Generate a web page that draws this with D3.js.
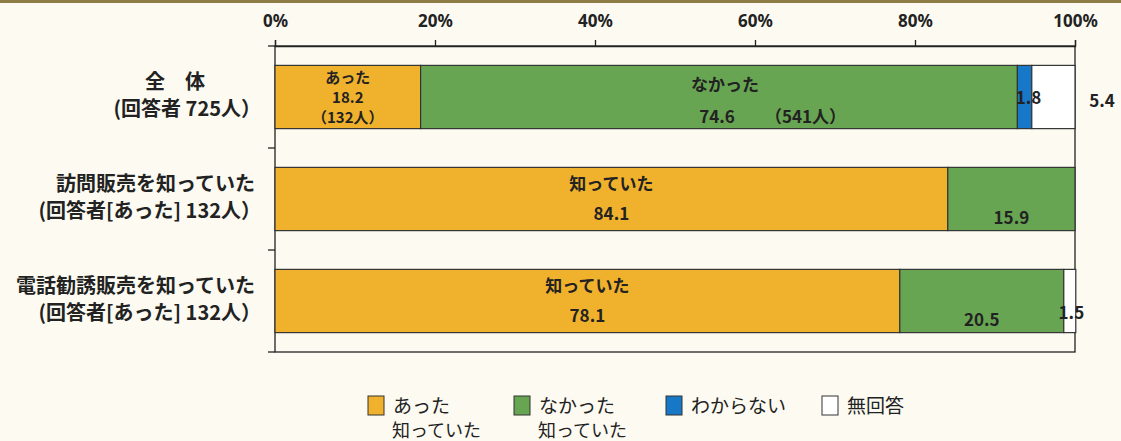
<!DOCTYPE html>
<html><head><meta charset="utf-8">
<script src="https://cdn.jsdelivr.net/npm/d3@7"></script>
<style>
html,body{margin:0;padding:0;background:#fcfaf1;}
svg{display:block;}
text{font-family:"Noto Sans CJK JP","Noto Sans",sans-serif;}
</style></head>
<body>
<svg id="chart" width="1121" height="441"></svg>
<script>
// ---- data ----
const categoryLine1 = ["全　体", "訪問販売を知っていた", "電話勧誘販売を知っていた"];
const categoryLine2 = ["(回答者 725人）", "(回答者[あった] 132人）", "(回答者[あった] 132人）"];
const seriesKeys = ["yes", "no", "unknown", "noAnswer"];
const legendLine1 = ["あった", "なかった", "わからない", "無回答"];
const legendLine2 = ["知っていた", "知っていた", "", ""];
const yesValues = [18.2, 84.1, 78.1];
const noValues = [74.6, 15.9, 20.5];
const unknownValues = [1.8, 0, 0];
const noAnswerValues = [5.4, 0, 1.5];
const yesTitles = ["あった", "知っていた", "知っていた"];
const yesCounts = ["（132人）", "", ""];
const noTitles = ["なかった", "", ""];
const noCounts = ["（541人）", "", ""];
const xTicks = [0, 20, 40, 60, 80, 100];

const colors = {yes: "#f0b22c", no: "#68a553", unknown: "#1878c8", noAnswer: "#ffffff"};

const svg = d3.select("#chart");
// top decorative strip
svg.append("rect").attr("x", 0).attr("y", 0).attr("width", 1121).attr("height", 3).attr("fill", "#8b7d45");

const x = d3.scaleLinear().domain([0, 100]).range([275, 1075]);
const y = d3.scaleBand().domain(d3.range(categoryLine1.length)).range([46, 352])
  .paddingInner(0.38).paddingOuter(0.19);

const rows = categoryLine1.map((c, i) => ({
  i, yes: yesValues[i], no: noValues[i], unknown: unknownValues[i], noAnswer: noAnswerValues[i]
}));
const stacked = d3.stack().keys(seriesKeys)(rows);

// plot frame
svg.append("rect").attr("x", x(0)).attr("y", y.range()[0])
  .attr("width", x(100) - x(0)).attr("height", y.range()[1] - y.range()[0])
  .attr("fill", "none").attr("stroke", "#222").attr("stroke-width", 1.3);

// top axis
const xAxis = d3.axisTop(x).tickValues(xTicks).tickFormat(d => d + "%").tickSize(6).tickPadding(13);
const gx = svg.append("g").attr("transform", `translate(0,${y.range()[0]})`).call(xAxis);
gx.select(".domain").attr("stroke", "#222").attr("stroke-width", 1.3);
gx.selectAll(".tick line").attr("stroke", "#222").attr("stroke-width", 1.3);
gx.selectAll(".tick text").attr("font-size", 17).attr("font-weight", "bold").attr("fill", "#222")
  .style("font-family", "'Noto Sans','Noto Sans CJK JP',sans-serif");

// left boundary ticks
const bounds = [y.range()[0]].concat(d3.range(1, categoryLine1.length).map(i => y(i) - y.step() * y.paddingInner() / 2), [y.range()[1]]);
svg.selectAll(".ltick").data(bounds).join("line")
  .attr("x1", x(0) - 7).attr("x2", x(0)).attr("y1", d => d).attr("y2", d => d)
  .attr("stroke", "#222").attr("stroke-width", 1.3);

// bars
stacked.forEach(layer => {
  svg.append("g").selectAll("rect").data(layer.filter(d => d[1] - d[0] > 0)).join("rect")
    .attr("x", d => x(d[0])).attr("y", d => y(d.data.i))
    .attr("width", d => x(d[1]) - x(d[0])).attr("height", y.bandwidth())
    .attr("fill", colors[layer.key]).attr("stroke", "#333").attr("stroke-width", 1.2);
});

// category labels
const lab = svg.append("g").attr("font-weight", "bold").attr("fill", "#222").attr("font-size", 20);
categoryLine1.forEach((c, i) => {
  const cy = y(i) + y.bandwidth() / 2;
  if (i === 0) {
    lab.append("text").attr("x", 175).attr("y", cy - 8).attr("text-anchor", "middle").text(c);
  } else {
    lab.append("text").attr("x", 255).attr("y", cy - 8).attr("text-anchor", "end").text(c);
  }
  lab.append("text").attr("x", 261).attr("y", cy + 19).attr("text-anchor", "end").text(categoryLine2[i]);
});

// value labels
const vl = svg.append("g").attr("font-weight", "bold").attr("fill", "#222").attr("font-size", 17);
const fmt = v => v.toFixed(1);
rows.forEach((r, i) => {
  const top = y(i);
  const yesC = (x(0) + x(r.yes)) / 2;
  const noStart = r.yes, noEnd = r.yes + r.no;
  const noC = (x(noStart) + x(noEnd)) / 2;
  if (i === 0) {
    vl.append("text").attr("x", yesC).attr("y", top + 18).attr("font-size", 15).attr("text-anchor", "middle").text(yesTitles[i]);
    vl.append("text").attr("x", yesC).attr("y", top + 38).attr("font-size", 15).attr("text-anchor", "middle").text(fmt(r.yes));
    vl.append("text").attr("x", yesC).attr("y", top + 58).attr("font-size", 15).attr("text-anchor", "middle").text(yesCounts[i]);
    vl.append("text").attr("x", noC + 6).attr("y", top + 26).attr("text-anchor", "middle").text(noTitles[i]);
    vl.append("text").attr("x", noC - 2).attr("y", top + 58).attr("text-anchor", "middle").text(fmt(r.no));
    vl.append("text").attr("x", noC + 46).attr("y", top + 58).attr("text-anchor", "start").text(noCounts[i]);
    const uC = (x(noEnd) + x(noEnd + r.unknown)) / 2;
    vl.append("text").attr("x", uC + 4).attr("y", top + 39).attr("text-anchor", "middle").text(fmt(r.unknown));
    vl.append("text").attr("x", x(100) + 27).attr("y", top + 42).attr("text-anchor", "middle").text(fmt(r.noAnswer));
  } else {
    vl.append("text").attr("x", yesC).attr("y", top + 23).attr("text-anchor", "middle").text(yesTitles[i]);
    vl.append("text").attr("x", yesC).attr("y", top + 53).attr("text-anchor", "middle").text(fmt(r.yes));
    vl.append("text").attr("x", noC).attr("y", top + 57).attr("text-anchor", "middle").text(fmt(r.no));
    if (r.noAnswer > 0) {
      const naC = (x(noEnd) + x(100)) / 2;
      vl.append("text").attr("x", naC + 2).attr("y", top + 50).attr("text-anchor", "middle").text(fmt(r.noAnswer));
    }
  }
});

// legend
const legX = [368, 514, 666, 822];
const lg = svg.append("g").attr("fill", "#222").attr("font-size", 19);
seriesKeys.forEach((k, i) => {
  lg.append("rect").attr("x", legX[i]).attr("y", 396).attr("width", 16).attr("height", 19)
    .attr("fill", colors[k]).attr("stroke", "#333").attr("stroke-width", 1);
  lg.append("text").attr("x", legX[i] + 25).attr("y", 413).text(legendLine1[i]);
  if (legendLine2[i]) lg.append("text").attr("x", legX[i] + 24).attr("y", 437).attr("font-size", 18).text(legendLine2[i]);
});
</script>
</body></html>
